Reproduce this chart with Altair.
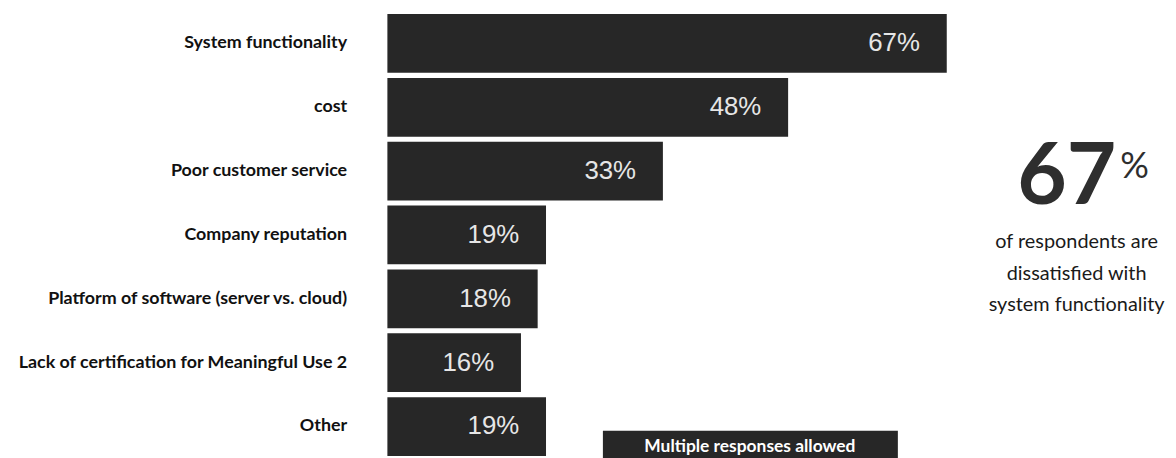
import altair as alt
import pandas as pd

categories = [
    "System functionality",
    "cost",
    "Poor customer service",
    "Company reputation",
    "Platform of software (server vs. cloud)",
    "Lack of certification for Meaningful Use 2",
    "Other",
]
values = [67, 48, 33, 19, 18, 16, 19]
labels = [f"{v}%" for v in values]

big_number = "67"
big_unit = "%"
side_lines = ["of respondents are", "dissatisfied with", "system functionality"]
badge_text = "Multiple responses allowed"

df = pd.DataFrame({"cat": categories, "val": values, "lab": labels})

BAR = "#272727"
NARROW = "Lato"

y_scale = alt.Scale(paddingInner=0.08, paddingOuter=0.04)
y_enc = alt.Y(
    "cat:N",
    sort=categories,
    title=None,
    scale=y_scale,
    axis=alt.Axis(
        labelFont=NARROW,
        labelFontWeight="bold",
        labelFontSize=18,
        labelColor="#111111",
        labelPadding=41,
        ticks=False,
        domain=False,
        labelLimit=400,
    ),
)
y_enc_noaxis = alt.Y("cat:N", sort=categories, title=None, scale=y_scale, axis=None)
x_enc = alt.X("val:Q", scale=alt.Scale(domain=[0, 93.5], nice=False, zero=True), axis=None)

bars = alt.Chart(df).mark_bar(color=BAR).encode(x=x_enc, y=y_enc)

bar_text = alt.Chart(df).mark_text(
    align="right", baseline="middle", dx=-27, dy=0,
    font="Liberation Sans", fontSize=26, color="#e6e6e6",
).encode(x=x_enc, y=y_enc_noaxis, text="lab:N")

big = alt.Chart(pd.DataFrame({"t": [big_number]})).mark_text(
    align="center", baseline="alphabetic", font=NARROW, fontWeight="bold",
    fontSize=86, color="#2e2e2e",
).encode(x=alt.value(684), y=alt.value(194), text="t:N")

unit = alt.Chart(pd.DataFrame({"t": [big_unit]})).mark_text(
    align="left", baseline="alphabetic", font=NARROW,
    fontSize=36, color="#2e2e2e",
).encode(x=alt.value(738), y=alt.value(168), text="t:N")

side_df = pd.DataFrame({"t": side_lines, "i": list(range(len(side_lines)))})
side = alt.Chart(side_df).mark_text(
    align="center", baseline="alphabetic", font=NARROW,
    fontSize=20, color="#1a1a1a",
).encode(
    x=alt.value(694),
    y=alt.Y("i:O", scale=alt.Scale(range=[238, 302], padding=0), axis=None),
    text="t:N",
)

badge_box = alt.Chart(pd.DataFrame({"t": [badge_text]})).mark_rect(color=BAR).encode(
    x=alt.value(217), x2=alt.value(514), y=alt.value(422), y2=alt.value(470)
)
badge = alt.Chart(pd.DataFrame({"t": [badge_text]})).mark_text(
    align="center", baseline="alphabetic", font=NARROW, fontWeight="bold",
    fontSize=17.5, color="#ffffff",
).encode(x=alt.value(365), y=alt.value(444), text="t:N")

chart = (
    alt.layer(bars, bar_text, big, unit, side, badge_box, badge)
    .resolve_scale(y="independent")
    .properties(
        width=786,
        height=450,
        autosize=alt.AutoSizeParams(type="none"),
        padding={"left": 382, "top": 2, "right": 0, "bottom": 0},
        background="#ffffff",
    )
    .configure_view(stroke=None)
)

chart.save("out.html", embed_options={"renderer": "svg", "actions": False})
